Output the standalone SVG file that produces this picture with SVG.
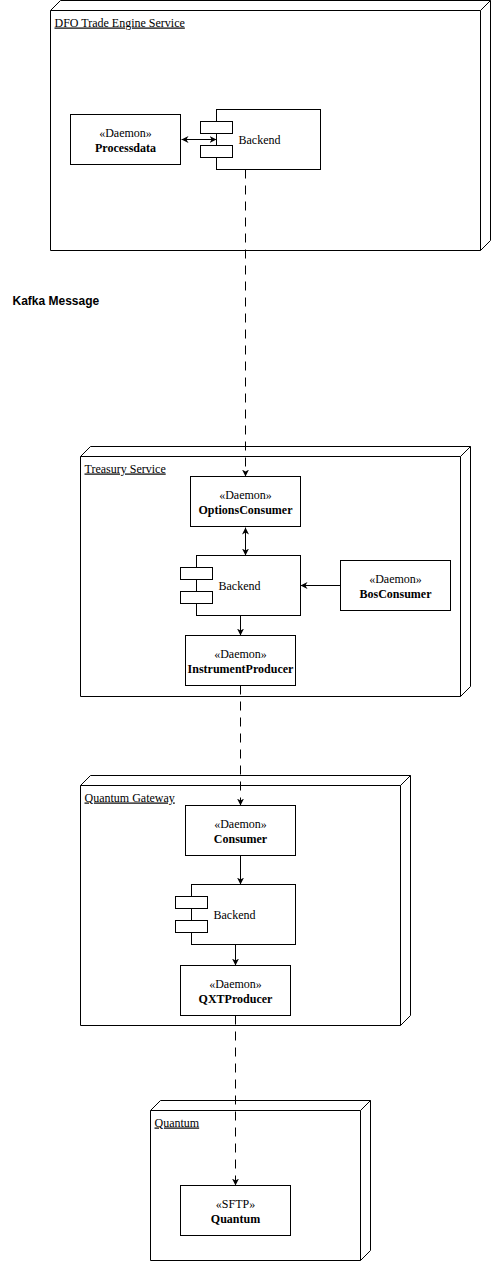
<svg xmlns="http://www.w3.org/2000/svg" width="491" height="1261" viewBox="0 0 491 1261">
<defs>
<style>
.n{fill:#fff;stroke:#000;stroke-width:1}
.t{font-family:"Liberation Serif",serif;font-size:12px;fill:#000}
.u{text-decoration:underline}
.b{font-weight:bold}
.c{stroke:#000;stroke-width:1;fill:none}
.d{stroke-dasharray:9 7}
</style>
<marker id="ah" viewBox="0 0 10 10" refX="10" refY="5" markerWidth="7" markerHeight="7" orient="auto-start-reverse" markerUnits="userSpaceOnUse">
<path d="M0,0 L10,5 L0,10 L3,5 Z" fill="#000"/>
</marker>
</defs>
<rect width="491" height="1261" fill="#fff"/>
<g transform="translate(0.5,0.5)">
<g id="node-dfo">
<path class="n" d="M50,10 L60,0 L490,0 L490,240 L480,250 L50,250 Z"/>
<path class="c" d="M50,10 L480,10 L490,0 M480,10 L480,250"/>
<text class="t u" x="54" y="26">DFO Trade Engine Service</text>
</g>
<g id="processdata">
<rect class="n" x="70" y="114" width="110" height="50"/>
<text class="t" x="125" y="136" text-anchor="middle">«Daemon»</text>
<text class="t b" x="125" y="151" text-anchor="middle">Processdata</text>
</g>
<g id="backend-dfo">
<rect class="n" x="216" y="109" width="104" height="60"/>
<rect class="n" x="200" y="121" width="32" height="12"/>
<rect class="n" x="200" y="145" width="32" height="12"/>
<text class="t" x="238" y="143">Backend</text>
</g>

<text id="kafka" x="12" y="304" font-family="'Liberation Sans',Arial,sans-serif" font-size="12" font-weight="bold">Kafka Message</text>

<g id="node-treasury">
<path class="n" d="M80,456 L90,446 L470,446 L470,686 L460,696 L80,696 Z"/>
<path class="c" d="M80,456 L460,456 L470,446 M460,456 L460,696"/>
<text class="t u" x="84" y="472">Treasury Service</text>
</g>
<g id="optionsconsumer">
<rect class="n" x="190" y="476" width="110" height="50"/>
<text class="t" x="245" y="498" text-anchor="middle">«Daemon»</text>
<text class="t b" x="245" y="513" text-anchor="middle">OptionsConsumer</text>
</g>
<g id="backend-treasury">
<rect class="n" x="196" y="555" width="104" height="60"/>
<rect class="n" x="180" y="567" width="32" height="12"/>
<rect class="n" x="180" y="591" width="32" height="12"/>
<text class="t" x="218" y="589">Backend</text>
</g>
<g id="bosconsumer">
<rect class="n" x="340" y="560" width="110" height="50"/>
<text class="t" x="395" y="582" text-anchor="middle">«Daemon»</text>
<text class="t b" x="395" y="597" text-anchor="middle">BosConsumer</text>
</g>
<g id="instrumentproducer">
<rect class="n" x="185" y="635" width="110" height="50"/>
<text class="t" x="240" y="657" text-anchor="middle">«Daemon»</text>
<text class="t b" x="240" y="672" text-anchor="middle">InstrumentProducer</text>
</g>

<g id="node-gateway">
<path class="n" d="M80,785 L90,775 L410,775 L410,1015 L400,1025 L80,1025 Z"/>
<path class="c" d="M80,785 L400,785 L410,775 M400,785 L400,1025"/>
<text class="t u" x="84" y="801">Quantum Gateway</text>
</g>
<g id="consumer">
<rect class="n" x="185" y="805" width="110" height="50"/>
<text class="t" x="240" y="827" text-anchor="middle">«Daemon»</text>
<text class="t b" x="240" y="842" text-anchor="middle">Consumer</text>
</g>
<g id="backend-gateway">
<rect class="n" x="191" y="884" width="104" height="60"/>
<rect class="n" x="175" y="896" width="32" height="12"/>
<rect class="n" x="175" y="920" width="32" height="12"/>
<text class="t" x="213" y="918">Backend</text>
</g>
<g id="qxtproducer">
<rect class="n" x="180" y="965" width="110" height="50"/>
<text class="t" x="235" y="987" text-anchor="middle">«Daemon»</text>
<text class="t b" x="235" y="1002" text-anchor="middle">QXTProducer</text>
</g>

<g id="node-quantum">
<path class="n" d="M150,1110 L160,1100 L370,1100 L370,1250 L360,1260 L150,1260 Z"/>
<path class="c" d="M150,1110 L360,1110 L370,1100 M360,1110 L360,1260"/>
<text class="t u" x="154" y="1126">Quantum</text>
</g>
<g id="sftp-quantum">
<rect class="n" x="180" y="1185" width="110" height="50"/>
<text class="t" x="235" y="1207" text-anchor="middle">«SFTP»</text>
<text class="t b" x="235" y="1222" text-anchor="middle">Quantum</text>
</g>

<g id="connectors">
<line class="c" x1="181" y1="139" x2="216" y2="139" marker-start="url(#ah)" marker-end="url(#ah)"/>
<line class="c d" x1="245" y1="169" x2="245" y2="476" marker-end="url(#ah)"/>
<line class="c" x1="245" y1="527" x2="245" y2="555" marker-start="url(#ah)" marker-end="url(#ah)"/>
<line class="c" x1="340" y1="585" x2="300" y2="585" marker-end="url(#ah)"/>
<line class="c" x1="240" y1="615" x2="240" y2="635" marker-end="url(#ah)"/>
<line class="c d" x1="240" y1="685" x2="240" y2="805" marker-end="url(#ah)"/>
<line class="c" x1="240" y1="855" x2="240" y2="884" marker-end="url(#ah)"/>
<line class="c" x1="235" y1="944" x2="235" y2="965" marker-end="url(#ah)"/>
<line class="c d" x1="235" y1="1015" x2="235" y2="1185" marker-end="url(#ah)"/>
</g>
</g>
</svg>
